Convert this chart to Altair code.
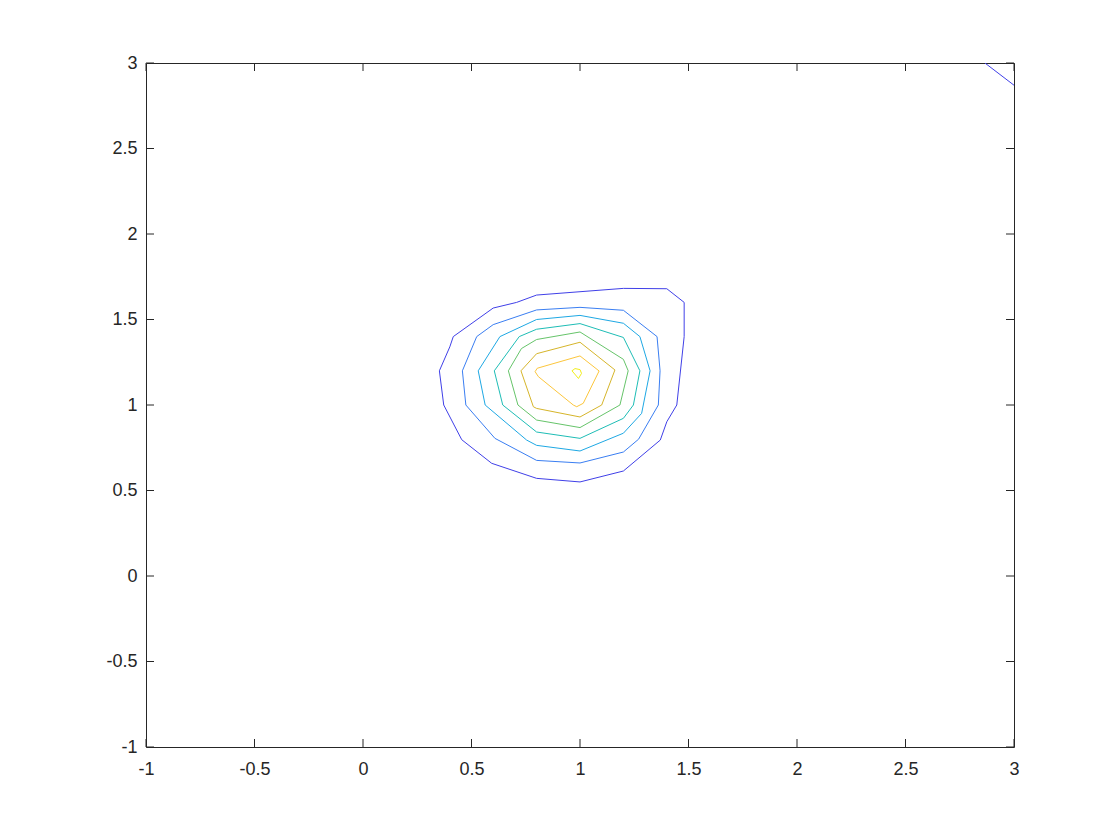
import altair as alt
import pandas as pd

# Contour polylines (x, y in data units)
L1_x = [0.8, 0.708, 0.6, 0.416, 0.4, 0.352, 0.372, 0.455, 0.593, 0.8, 1.0, 1.2, 1.37, 1.4, 1.446, 1.48, 1.48, 1.40, 1.2, 0.8]
L1_y = [1.643, 1.60, 1.567, 1.40, 1.34, 1.2, 1.0, 0.797, 0.659, 0.571, 0.55, 0.614, 0.795, 0.902, 1.0, 1.40, 1.60, 1.68, 1.682, 1.643]

L2_x = [1.0, 0.8, 0.6, 0.524, 0.458, 0.474, 0.608, 0.8, 1.0, 1.2, 1.27, 1.361, 1.369, 1.355, 1.2, 1.0]
L2_y = [1.571, 1.556, 1.47, 1.40, 1.2, 1.0, 0.805, 0.676, 0.661, 0.725, 0.80, 1.0, 1.2, 1.40, 1.554, 1.571]

L3_x = [1.0, 0.8, 0.631, 0.531, 0.563, 0.754, 0.8, 1.0, 1.2, 1.284, 1.323, 1.276, 1.2, 1.0]
L3_y = [1.524, 1.50, 1.40, 1.2, 1.0, 0.795, 0.764, 0.731, 0.835, 0.951, 1.2, 1.40, 1.478, 1.524]

L4_x = [1.0, 0.8, 0.72, 0.605, 0.644, 0.8, 1.0, 1.2, 1.246, 1.276, 1.2, 1.0]
L4_y = [1.476, 1.443, 1.40, 1.2, 1.0, 0.842, 0.805, 0.922, 1.0, 1.2, 1.395, 1.476]

L5_x = [1.0, 0.8, 0.73, 0.67, 0.714, 0.8, 1.0, 1.184, 1.222, 1.2, 1.0]
L5_y = [1.427, 1.383, 1.33, 1.2, 1.0, 0.912, 0.868, 1.0, 1.2, 1.267, 1.427]

L6_x = [1.0, 0.8, 0.728, 0.785, 0.8, 1.0, 1.1, 1.161, 1.0]
L6_y = [1.367, 1.30, 1.2, 0.99, 0.98, 0.93, 1.0, 1.205, 1.367]

L7_x = [1.0, 0.803, 0.793, 0.808, 0.969, 0.985, 1.015, 1.088, 1.0]
L7_y = [1.287, 1.215, 1.195, 1.166, 1.0, 0.99, 1.01, 1.199, 1.287]

L8_x = [0.963, 0.977, 1.0, 1.007, 0.993, 0.963]
L8_y = [1.2, 1.213, 1.207, 1.185, 1.155, 1.2]

CORNER_x = [2.866, 3.0]
CORNER_y = [3.0, 2.87]

levels = ["L1", "L2", "L3", "L4", "L5", "L6", "L7", "L8"]
level_colors = ["#4040E8", "#3A7EF2", "#1EA8E4", "#1EBDB6", "#66C46A", "#D6B52A", "#FCC63C", "#F2EE1C"]

tick_values = [-1, -0.5, 0, 0.5, 1, 1.5, 2, 2.5, 3]

paths = [
    ("L1", "p1", L1_x, L1_y),
    ("L1", "p1b", CORNER_x, CORNER_y),
    ("L2", "p2", L2_x, L2_y),
    ("L3", "p3", L3_x, L3_y),
    ("L4", "p4", L4_x, L4_y),
    ("L5", "p5", L5_x, L5_y),
    ("L6", "p6", L6_x, L6_y),
    ("L7", "p7", L7_x, L7_y),
    ("L8", "p8", L8_x, L8_y),
]
rows = []
for lvl, pid, xs, ys in paths:
    for i, (xv, yv) in enumerate(zip(xs, ys)):
        rows.append({"level": lvl, "path": pid, "ord": i, "x": xv, "y": yv})
df = pd.DataFrame(rows)
ticks = pd.DataFrame({"t": tick_values})

W, H = 868, 684
TL = 8
AX = "#262626"
FONT = "Liberation Sans"
FS = 18

xscale = alt.Scale(domain=[-1, 3], nice=False, zero=False)
yscale = alt.Scale(domain=[-1, 3], nice=False, zero=False)

xaxis = alt.Axis(values=tick_values, ticks=False, domain=False, grid=False, title=None,
                 labelFont=FONT, labelFontSize=FS, labelColor=AX, labelPadding=13,
                 labelExpr="toString(datum.value)", labelFlush=False, labelOverlap=False)
yaxis = alt.Axis(values=tick_values, ticks=False, domain=False, grid=False, title=None,
                 labelFont=FONT, labelFontSize=FS, labelColor=AX, labelPadding=9,
                 labelExpr="toString(datum.value)", labelFlush=False, labelOverlap=False)

lines = alt.Chart(df).mark_line(strokeWidth=1, clip=True).encode(
    x=alt.X("x:Q", scale=xscale, axis=xaxis),
    y=alt.Y("y:Q", scale=yscale, axis=yaxis),
    color=alt.Color("level:N", scale=alt.Scale(domain=levels, range=level_colors), legend=None),
    detail="path:N",
    order=alt.Order("ord:Q"),
)

tb = alt.Chart(ticks).mark_rule(color=AX, strokeWidth=1).encode(
    x=alt.X("t:Q", scale=xscale, title=None), y=alt.value(H), y2=alt.value(H - TL))
tt = alt.Chart(ticks).mark_rule(color=AX, strokeWidth=1).encode(
    x=alt.X("t:Q", scale=xscale, title=None), y=alt.value(0), y2=alt.value(TL))
tl = alt.Chart(ticks).mark_rule(color=AX, strokeWidth=1).encode(
    y=alt.Y("t:Q", scale=yscale, title=None), x=alt.value(0), x2=alt.value(TL))
tr = alt.Chart(ticks).mark_rule(color=AX, strokeWidth=1).encode(
    y=alt.Y("t:Q", scale=yscale, title=None), x=alt.value(W), x2=alt.value(W - TL))

chart = alt.layer(lines, tb, tt, tl, tr).properties(
    width=W, height=H,
    autosize=alt.AutoSizeParams(type="none"),
    padding={"left": 138, "top": 55, "right": 98, "bottom": 85},
    background="white",
).configure_view(stroke=AX, strokeWidth=1)

chart.save("out.html", embed_options={"renderer": "svg", "actions": False})
